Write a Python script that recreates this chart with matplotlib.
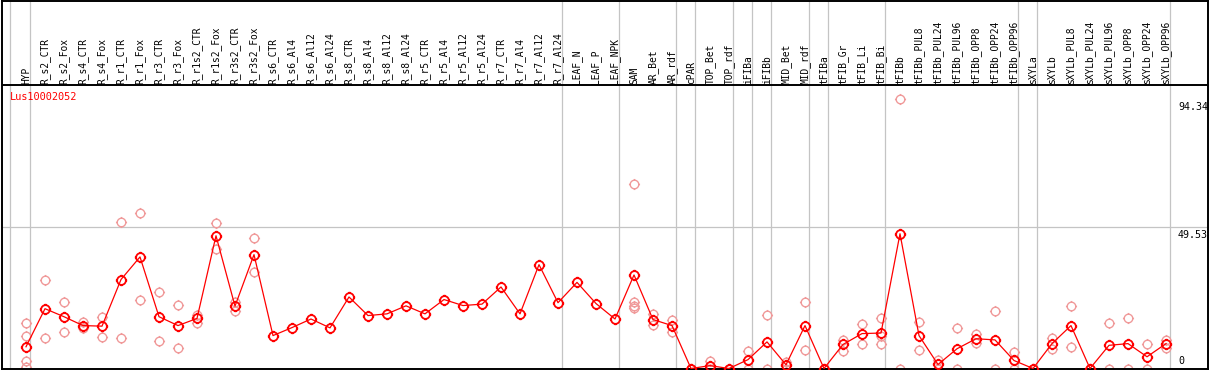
import numpy as np
import matplotlib
matplotlib.use('Agg')
import matplotlib.pyplot as plt
import matplotlib.path as mpath
import matplotlib.transforms as mtrans

gene = 'Lus10002052'

samples = ['HYP', 'R_s2_CTR', 'R_s2_Fox', 'R_s4_CTR', 'R_s4_Fox', 'R_r1_CTR', 'R_r1_Fox',
           'R_r3_CTR', 'R_r3_Fox', 'R_r1s2_CTR', 'R_r1s2_Fox', 'R_r3s2_CTR', 'R_r3s2_Fox',
           'R_s6_CTR', 'R_s6_Al4', 'R_s6_Al12', 'R_s6_Al24', 'R_s8_CTR', 'R_s8_Al4',
           'R_s8_Al12', 'R_s8_Al24', 'R_r5_CTR', 'R_r5_Al4', 'R_r5_Al12', 'R_r5_Al24',
           'R_r7_CTR', 'R_r7_Al4', 'R_r7_Al12', 'R_r7_Al24', 'LEAF_N', 'LEAF_P', 'LEAF_NPK',
           'SAM', 'AR_Bet', 'AR_rdf', 'cPAR', 'TOP_Bet', 'TOP_rdf', 'iFIBa', 'iFIBb',
           'MID_Bet', 'MID_rdf', 'tFIBa', 'tFIB_Gr', 'tFIB_Li', 'tFIB_Bi', 'tFIBb',
           'tFIBb_PUL8', 'tFIBb_PUL24', 'tFIBb_PUL96', 'tFIBb_OPP8', 'tFIBb_OPP24',
           'tFIBb_OPP96', 'sXYLa', 'sXYLb', 'sXYLb_PUL8', 'sXYLb_PUL24', 'sXYLb_PUL96',
           'sXYLb_OPP8', 'sXYLb_OPP24', 'sXYLb_OPP96']

means = [7.6, 20.9, 18.1, 15.0, 14.8, 31.1, 39.0, 18.1, 15.0, 17.5, 46.4, 21.8, 39.8,
         11.5, 14.3, 17.3, 14.2, 25.0, 18.5, 19.1, 21.9, 19.1, 24.1, 22.0, 22.5,
         28.5, 19.1, 36.3, 23.0, 30.1, 22.7, 17.3,
         32.7, 17.1, 15.0, 0.0, 1.0, 0.0, 3.1, 9.3, 1.3, 15.0,
         0.0, 8.4, 12.2, 12.4, 47.1, 11.5, 1.4, 6.9, 10.4, 10.0, 2.8,
         0.0, 8.7, 15.0, 0.0, 8.1, 8.7, 4.1, 8.7]

replicates = [[16.0, 11.5, 2.5, 0.4], [31.1, 10.8], [23.4, 12.8], [16.2, 14.0], [18.1, 11.0],
              [51.2, 10.8], [54.3, 24.1], [26.9, 9.7], [22.2, 7.2], [18.8, 15.9],
              [50.8, 41.8], [23.2, 20.2], [45.6, 33.7],
              [], [], [], [], [], [], [], [], [], [], [], [], [], [], [], [], [], [], [],
              [64.6, 23.2, 22.0, 21.2], [19.2, 15.1], [16.8, 12.7], [0.0, 0.0], [2.5, 0.0],
              [0.0, 0.0], [6.2, 0.0], [18.8, 0.0], [2.2, 0.0], [23.3, 6.5],
              [0.0, 0.0], [10.1, 6.0], [15.4, 8.4], [17.5, 11.3, 8.7], [94.34, 0.0],
              [16.3, 6.6], [3.1, 0.0], [14.0, 0.0], [11.9, 9.0], [20.2, 0.0], [5.8, 0.0],
              [0.0, 0.0], [10.7, 6.9], [22.0, 7.6], [0.0, 0.0], [15.9, 0.0], [17.5, 0.0],
              [8.7, 0.0], [10.1, 7.2]]

# last sample of each tissue group (grey separators)
group_ends = [0, 28, 31, 34, 35, 37, 38, 39, 41, 42, 45, 52, 53, 60]
ytick_vals = [94.34, 49.53, 0]

# pixel layout: x = 26 + 19*i, y = 368.5 - 2.865*v
W, H = 1209, 370
xpx = lambda p: (p - 26) / 19.0
ypx = lambda p: (368.5 - p) / 2.865
header = ypx(85)

fig = plt.figure(figsize=(W / 100, H / 100), dpi=100)
ax = fig.add_axes([1.5 / W, 1.5 / H, 1206 / W, 367.5 / H])
ax.set_xlim(xpx(1.5), xpx(1207.5))
ax.set_ylim(0, ypx(0.5))
ax.set_xticks([])
ax.set_yticks([])
for s in ax.spines.values():
    s.set_linewidth(1.4)

# marker: open circle (polygon) with four small ticks
t = np.linspace(0, 2 * np.pi, 25)
verts = list(zip(np.cos(t), np.sin(t)))
codes = [mpath.Path.MOVETO] + [mpath.Path.LINETO] * 24
for dx, dy in [(0, 1), (0, -1), (1, 0), (-1, 0)]:
    verts += [(dx, dy), (1.3 * dx, 1.3 * dy)]
    codes += [mpath.Path.MOVETO, mpath.Path.LINETO]
mk = mpath.Path(verts, codes)

grey = '#c4c4c4'
ax.axvline(xpx(10), color=grey, lw=0.9, zorder=1)
for g in group_ends:
    ax.axvline(g + 0.23, color=grey, lw=0.9, zorder=1)
ax.axhline(ytick_vals[1], color=grey, lw=0.9, zorder=1)
ax.axhline(header, color='black', lw=1.4, zorder=3)

x = np.arange(len(samples))
for i, reps in enumerate(replicates):
    if reps:
        ax.plot([i] * len(reps), reps, linestyle='none', marker=mk, ms=8.0,
                mfc='none', mec='#f09a9a', mew=1.0, zorder=2)
ax.plot(x, means, color='red', lw=0.9, marker=mk, ms=8.2, mfc='none',
        mec='red', mew=1.3, zorder=4)

mono = 'DejaVu Sans Mono'
for i, name in enumerate(samples):
    ax.text(i, header + 0.6, name, rotation=90, ha='center', va='bottom',
            fontsize=6.9, family=mono, color='black')

ax.text(xpx(10), ypx(97), gene, color='red', fontsize=7.4, family=mono,
        ha='left', va='center')

down = mtrans.offset_copy(ax.transData, fig=fig, x=0, y=-3, units='dots')
up = mtrans.offset_copy(ax.transData, fig=fig, x=0, y=3, units='dots')
for v in ytick_vals:
    if v == 0:
        ax.text(xpx(1178), v, '0', fontsize=7.2, family=mono, ha='left',
                va='bottom', transform=up)
    else:
        ax.text(xpx(1178), v, '%.2f' % v, fontsize=7.2, family=mono, ha='left',
                va='top', transform=down)

fig.savefig('out.png', dpi=100)
